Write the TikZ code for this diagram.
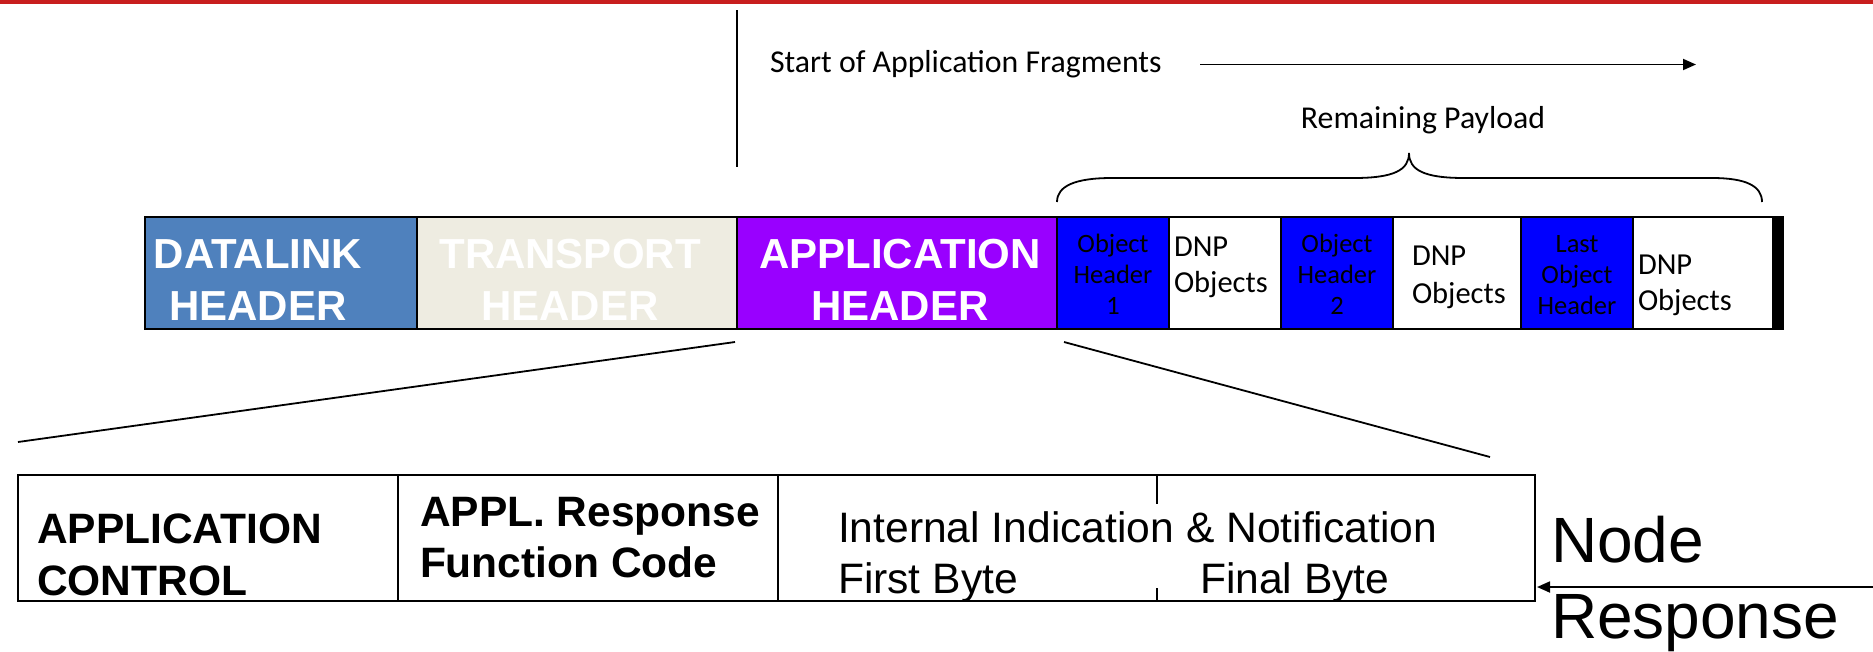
\documentclass[tikz,border=0pt]{standalone}
\usepackage{fontspec}
\usetikzlibrary{arrows.meta}
\newfontfamily\arialfont{Liberation Sans}
\newfontfamily\calfont{Carlito}
\definecolor{topred}{RGB}{200,30,30}
\definecolor{dlblue}{RGB}{79,129,189}
\definecolor{tpcream}{RGB}{238,236,225}
\definecolor{appurple}{RGB}{153,0,255}
\definecolor{objblue}{RGB}{0,0,255}
\begin{document}
\begin{tikzpicture}[x=1pt,y=-1pt,
  cell/.style={draw=black, line width=2pt, inner sep=0pt, outer sep=0pt, minimum height=112pt},
  lowcell/.style={draw=black, line width=2pt, inner sep=0pt, outer sep=0pt, minimum height=126pt},
  txt/.style={inner sep=0pt, outer sep=0pt},
  bighead/.style={txt, anchor=base, text=white, font=\arialfont\bfseries\fontsize{42}{49}\selectfont},
  objhead/.style={txt, anchor=base, font=\calfont\fontsize{26.5}{31}\selectfont},
  dnptxt/.style={txt, anchor=base west, font=\calfont\fontsize{30.5}{36}\selectfont},
  ctltxt/.style={txt, anchor=base west, font=\arialfont\bfseries\fontsize{42.5}{49}\selectfont},
  iitxt/.style={txt, anchor=base west, font=\arialfont\fontsize{42.6}{49}\selectfont},
  nrtxt/.style={txt, anchor=base west, font=\arialfont\fontsize{64}{70}\selectfont},
  calltxt/.style={txt, anchor=base, font=\calfont\fontsize{31.8}{37}\selectfont},
  thin/.style={line width=1.8pt},
  tip/.style={-{Triangle[length=13pt,width=11pt]}}
]
\useasboundingbox (0,0) rectangle (1873,651);

% red rule along the top edge
\fill[topred] (0,0) rectangle (1873,3.5);

% marker for the start of the application fragments
\coordinate (vtop) at (737,10);
\coordinate (vbot) at (737,167);
\draw[thin] (vtop) -- (vbot);
\node[calltxt, anchor=base west] (saf) at (770,72) {Start of Application Fragments};
\coordinate (safa) at (1200,64.5);
\coordinate (safb) at (1696,64.5);
\draw[thin, tip] (safa) -- (safb);

% remaining payload brace
\node[calltxt] (rp) at (1423,128) {Remaining Payload};
\coordinate (brl) at (1057,202);
\coordinate (brt) at (1409,153);
\coordinate (brr) at (1762,202);
\draw[thin] (brl) .. controls (1057,186) and (1075,178) .. (1112,178) -- (1354,178)
  .. controls (1394,178) and (1409,170) .. (brt)
  .. controls (1409,170) and (1424,178) .. (1464,178) -- (1712,178)
  .. controls (1746,178) and (1762,186) .. (brr);

% frame cells
\node[cell, fill=dlblue,    minimum width=272pt] (dl)  at (281,273)  {};
\node[cell, fill=tpcream,   minimum width=320pt] (tp)  at (577,273)  {};
\node[cell, fill=appurple,  minimum width=320pt] (ah)  at (897,273)  {};
\node[cell, fill=objblue,   minimum width=112pt] (oh1) at (1113,273) {};
\node[cell, fill=white,     minimum width=112pt] (do1) at (1225,273) {};
\node[cell, fill=objblue,   minimum width=112pt] (oh2) at (1337,273) {};
\node[cell, fill=white,     minimum width=128pt] (do2) at (1457,273) {};
\node[cell, fill=objblue,   minimum width=112pt] (oh3) at (1577,273) {};
\node[cell, fill=white,     minimum width=140pt] (do3) at (1703,273) {};
\node[cell, fill=black,     minimum width=10pt]  (fend) at (1778,273) {};

% header labels
\node[bighead] (dlA) at (258,268) {DATALINK};
\node[bighead] (dlB) at (258,320) {HEADER};
\node[bighead] (tpA) at (570,268) {TRANSPORT};
\node[bighead] (tpB) at (570,320) {HEADER};
\node[bighead] (ahA) at (900,268) {APPLICATION};
\node[bighead] (ahB) at (900,320) {HEADER};

% object headers and objects
\node[objhead] (o1a) at (1113,252) {Object};
\node[objhead] (o1b) at (1113,283) {Header};
\node[objhead] (o1c) at (1113,314) {1};
\node[objhead] (o2a) at (1337,252) {Object};
\node[objhead] (o2b) at (1337,283) {Header};
\node[objhead] (o2c) at (1337,314) {2};
\node[objhead] (o3a) at (1577,252) {Last};
\node[objhead] (o3b) at (1577,283) {Object};
\node[objhead] (o3c) at (1577,314) {Header};
\node[dnptxt] (d1a) at (1174,256) {DNP};
\node[dnptxt] (d1b) at (1174,292) {Objects};
\node[dnptxt] (d2a) at (1412,265) {DNP};
\node[dnptxt] (d2b) at (1412,303) {Objects};
\node[dnptxt] (d3a) at (1638,274) {DNP};
\node[dnptxt] (d3b) at (1638,310) {Objects};

% expansion of the application header
\node[lowcell, minimum width=380pt] (ac) at (208,538)    {};
\node[lowcell, minimum width=380pt] (fc) at (588,538)    {};
\node[lowcell, minimum width=757pt] (ii) at (1156.5,538) {};
\coordinate (zl1) at (735,342);
\coordinate (zl2) at (18,442);
\coordinate (zr1) at (1064,342);
\coordinate (zr2) at (1490,457);
\draw[thin] (zl1) -- (zl2);
\draw[thin] (zr1) -- (zr2);
\draw[thin] (1157,475) -- (1157,504);
\draw[thin] (1157,588) -- (1157,601);

\node[ctltxt] (acA) at (37,543) {APPLICATION};
\node[ctltxt] (acB) at (37,595) {CONTROL};
\node[ctltxt] (fcA) at (420,526) {APPL. Response};
\node[ctltxt] (fcB) at (420,577) {Function Code};
\node[iitxt] (iiA) at (838,542) {Internal Indication \& Notification};
\node[iitxt] (iiB) at (838,593) {First Byte};
\node[iitxt] (iiC) at (1200,593) {Final Byte};

% node response
\node[nrtxt] (nA) at (1551,562) {Node};
\node[nrtxt] (nB) at (1551,638) {Response};
\coordinate (nr) at (1873,587);
\draw[thin, tip] (nr) -- ([xshift=2pt]ii.east |- nr);
\end{tikzpicture}
\end{document}
